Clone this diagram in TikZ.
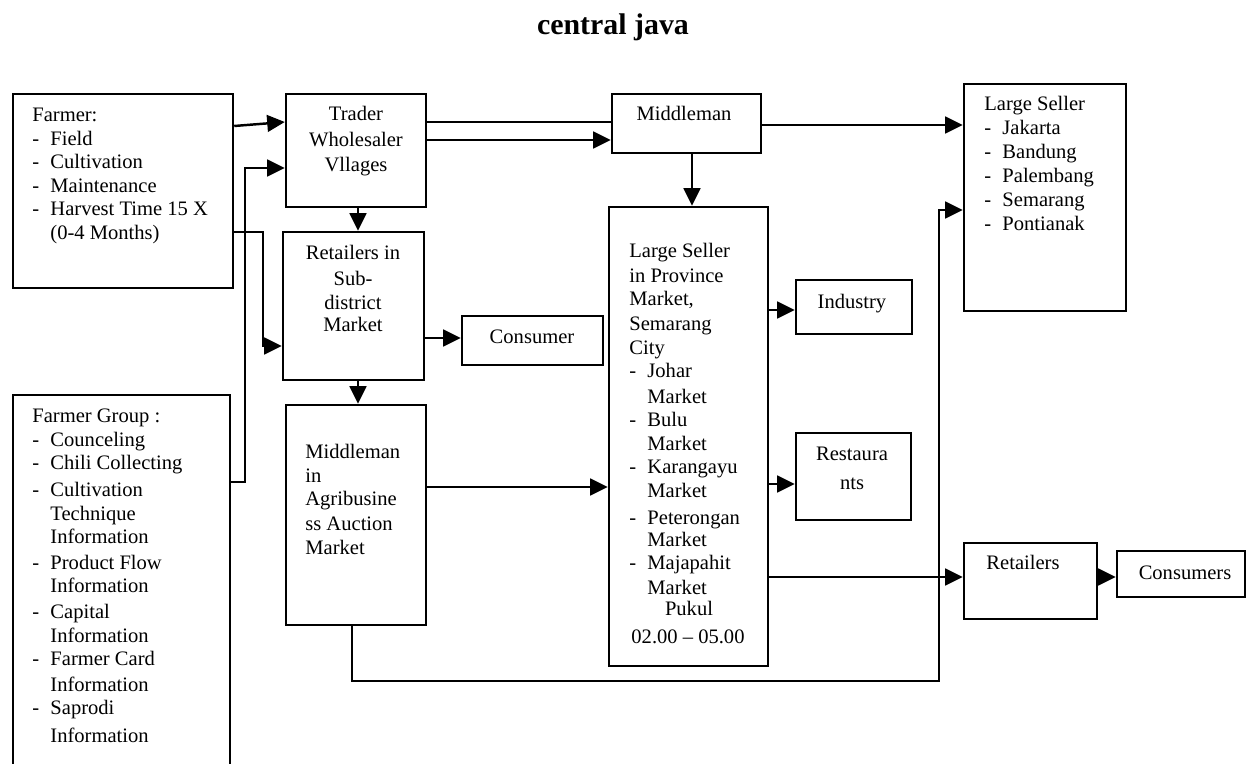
\documentclass[tikz,border=0pt]{standalone}
\usepackage{fontspec}
\setmainfont{Liberation Serif}
\usetikzlibrary{arrows.meta}
\newcommand\bodyfont{\fontsize{11.7}{13.4}\selectfont}
\newcommand\mkdash{\makebox[10.3pt][l]{-}}
\newcommand\mkhang{\hspace*{10.3pt}}
\newcommand\ltext[1]{\begin{tabular}[t]{@{}l@{}}#1\end{tabular}}
\newcommand\ctext[1]{\begin{tabular}[t]{@{}c@{}}#1\end{tabular}}
\newcommand\chainbox[5]{\node[box, minimum width={(#4-#2)*0.569pt}, minimum height={(#5-#3)*0.569pt}] (#1) at ({(#2+#4)/2},{(#3+#5)/2}) {};}
\tikzset{
	box/.style={draw, line width=1.4pt, inner sep=0pt},
	link/.style={line width=1.4pt},
	flow/.style={line width=1.4pt, -{Triangle[length=10pt,width=9.5pt]}},
	txt/.style={inner sep=0pt, font=\bodyfont, anchor=base west},
	ctxt/.style={inner sep=0pt, font=\bodyfont, anchor=base}
}
\begin{document}
\begin{tikzpicture}[x=0.569pt, y=-0.569pt]
			%%%%% START %%%%%
			\useasboundingbox (0,0) rectangle (1247,764);
			\clip (0,0) rectangle (1247,764);
			
			\node[inner sep=0pt, anchor=base, font=\fontsize{17}{20}\selectfont\bfseries] (title) at (613,35) {central java};
			
			\chainbox{farmer}{13}{94}{233}{288}
			\chainbox{group}{13}{395}{230}{800}
			\chainbox{trader}{286}{94}{426}{207}
			\chainbox{subdist}{283}{232}{424}{380}
			\chainbox{auction}{286}{405}{426}{625}
			\chainbox{consumer}{462}{316}{603}{365}
			\chainbox{middle}{612}{94}{761}{153}
			\chainbox{province}{609}{207}{768}{666}
			\chainbox{industry}{796}{280}{912}{334}
			\chainbox{resto}{796}{433}{911}{520}
			\chainbox{bigcity}{964}{84}{1126}{311}
			\chainbox{retail}{964}{543}{1097}{619}
			\chainbox{consumers}{1117}{551}{1245}{597}
			
			\node[txt] (farmertxt) at (32,121.5) {\ltext{Farmer:\\ \mkdash Field\\ \mkdash Cultivation\\ \mkdash Maintenance\\ \mkdash Harvest Time 15 X\\ \mkhang(0-4 Months)}};
			\node[txt] (grouptxt) at (32,422.5) {\ltext{Farmer Group :\\ \mkdash Counceling\\ \mkdash Chili Collecting\\[2pt] \mkdash Cultivation\\ \mkhang Technique\\ \mkhang Information\\[1pt] \mkdash Product Flow\\ \mkhang Information\\[1.5pt] \mkdash Capital\\ \mkhang Information\\ \mkdash Farmer Card\\[1pt] \mkhang Information\\ \mkdash Saprodi\\[2.5pt] \mkhang Information}};
			\node[ctxt] (tradertxt) at (356,121) {\ctext{Trader\\[1.1pt] Wholesaler\\[1.1pt] Vllages}};
			\node[ctxt] (subdisttxt) at (353,259.5) {\ctext{Retailers in\\[1.5pt] Sub-\\ district\\[-1pt] Market}};
			\node[txt] (auctiontxt) at (305,458.5) {\ltext{Middleman\\ in\\ Agribusine\\[0.5pt] ss Auction\\[0.5pt] Market}};
			\node[ctxt] (consumertxt) at (532,343.5) {Consumer};
			\node[ctxt] (middletxt) at (684,120.5) {Middleman};
			\node[txt] (provincetxt) at (629,257.5) {\ltext{Large Seller\\[0.7pt] in Province\\ Market,\\[0.7pt] Semarang\\ City\\ \mkdash Johar\\[1pt] \mkhang Market\\ \mkdash Bulu\\ \mkhang Market\\ \mkdash Karangayu\\ \mkhang Market\\[2.2pt] \mkdash Peterongan\\[-1pt] \mkhang Market\\ \mkdash Majapahit\\[0.7pt] \mkhang Market}};
			\node[ctxt] (pukul) at (689,615.5) {Pukul};
			\node[ctxt] (hours) at (688,643.5) {02.00 -- 05.00};
			\node[ctxt] (industrytxt) at (852,308.5) {Industry};
			\node[ctxt] (restotxt) at (852,460.5) {\ctext{Restaura\\[3pt] nts}};
			\node[txt] (bigcitytxt) at (984,110.5) {\ltext{Large Seller\\[0.5pt] \mkdash Jakarta\\ \mkdash Bandung\\[0.5pt] \mkdash Palembang\\ \mkdash Semarang\\ \mkdash Pontianak}};
			\node[ctxt] (retailtxt) at (1023,569.5) {Retailers};
			\node[ctxt] (consumerstxt) at (1185,579.5) {Consumers};
			
			\draw[flow] (farmer.east |- 0,126) -- (trader.west |- 0,122);
			\draw[flow] (group.east |- 0,482) -| (245,168) -- (trader.west |- 0,168);
			\draw[flow] (farmer.east |- 0,232) -| (263,346) -- (subdist.west |- 0,346);
			\draw[flow] (trader.south -| 358,0) -- (subdist.north -| 358,0);
			\draw[flow] (subdist.south -| 358,0) -- (auction.north -| 358,0);
			\draw[link] (trader.east |- 0,122) -- (middle.west |- 0,122);
			\draw[flow] (trader.east |- 0,140) -- (middle.west |- 0,140);
			\draw[flow] (middle.south -| 692,0) -- (province.north -| 692,0);
			\draw[flow] (middle.east |- 0,125) -- (bigcity.west |- 0,125);
			\draw[flow] (subdist.east |- 0,338) -- (consumer.west |- 0,338);
			\draw[flow] (province.east |- 0,310) -- (industry.west |- 0,310);
			\draw[flow] (auction.east |- 0,487) -- (province.west |- 0,487);
			\draw[flow] (province.east |- 0,484) -- (resto.west |- 0,484);
			\draw[flow] (province.east |- 0,577) -- (retail.west |- 0,577);
			\draw[flow] (retail.east |- 0,577) -- (consumers.west |- 0,577);
			\draw[flow] (auction.south -| 352,0) |- (939,681) |- (bigcity.west |- 0,210);
			
			%%%%% END %%%%%
		\end{tikzpicture}
\end{document}
